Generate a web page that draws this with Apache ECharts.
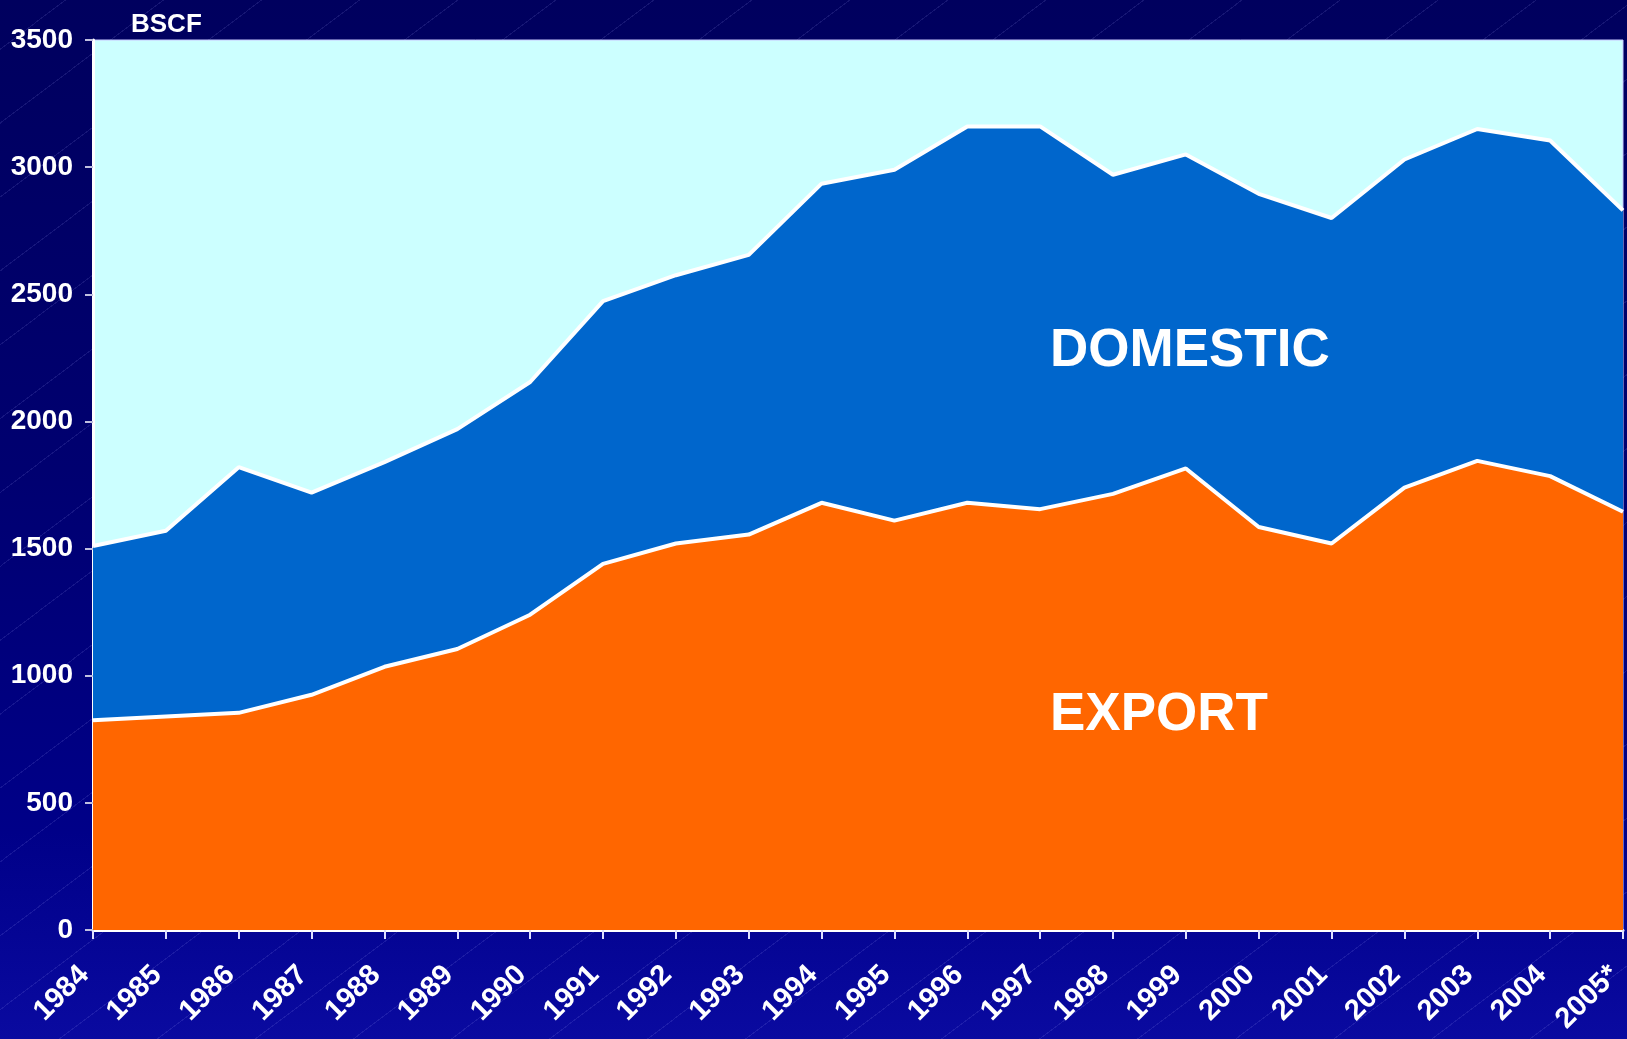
<!DOCTYPE html>
<html>
<head>
<meta charset="utf-8">
<script src="https://cdn.jsdelivr.net/npm/echarts@6/dist/echarts.min.js"></script>
<style>
  html, body { margin: 0; padding: 0; }
  body {
    width: 1627px; height: 1039px; overflow: hidden;
    background:
      repeating-linear-gradient(-37deg, transparent 0px, transparent 58px, rgba(170,170,255,0.13) 58px, rgba(170,170,255,0.13) 59px),
      linear-gradient(to bottom, #00005e 0%, #000070 45%, #000088 80%, #0a0aa0 100%);
  }
  #chart { width: 1627px; height: 1039px; }
</style>
</head>
<body>
<div id="chart"></div>
<script>
// 연도 (x축)
const years = ["1984", "1985", "1986", "1987", "1988", "1989", "1990", "1991", "1992", "1993", "1994",
  "1995", "1996", "1997", "1998", "1999", "2000", "2001", "2002", "2003", "2004", "2005*"];

// 수출량 (BSCF)
const exportValues = [825, 840, 854, 925, 1035, 1105, 1240, 1440, 1520, 1555, 1680,
  1610, 1680, 1655, 1715, 1815, 1585, 1520, 1740, 1845, 1785, 1645];

// 전체 생산량 (국내 + 수출)
const totalValues = [1510, 1570, 1820, 1720, 1840, 1970, 2155, 2473, 2575, 2655, 2935,
  2990, 3160, 3160, 2970, 3050, 2895, 2800, 3030, 3150, 3105, 2830];

// 국내 소비량 = 전체 - 수출
const domesticValues = totalValues.map((t, i) => t - exportValues[i]);

const yTicks = [0, 500, 1000, 1500, 2000, 2500, 3000, 3500];

const chart = echarts.init(document.getElementById("chart"));

const labelFont = { color: "#ffffff", fontFamily: "Liberation Sans", fontWeight: "bold", fontSize: 28 };

chart.setOption({
  animation: false,
  backgroundColor: "transparent",
  title: {
    text: "BSCF",
    left: 126,
    top: 7,
    textStyle: { ...labelFont, fontSize: 26 },
  },
  grid: {
    left: 93,
    top: 40,
    right: 4,
    bottom: 109,
    containLabel: false,
    outerBoundsMode: "none",
    show: true,
    backgroundColor: "#ccffff",
    borderColor: "#c8c8ff",
    borderWidth: 1,
  },
  xAxis: {
    type: "category",
    data: years,
    boundaryGap: false,
    axisLine: { lineStyle: { color: "#ffffff", width: 3 } },
    axisTick: { show: true, length: 9, lineStyle: { color: "#e0e0ff", width: 2 } },
    axisLabel: { ...labelFont, fontSize: 29, rotate: 45, margin: 32, padding: [0, 12, 0, 0], interval: 0 },
    splitLine: { show: false },
  },
  yAxis: {
    type: "value",
    min: yTicks[0],
    max: yTicks[yTicks.length - 1],
    interval: 500,
    axisLine: { show: true, lineStyle: { color: "#ffffff", width: 3 } },
    axisTick: { show: true, length: 8, lineStyle: { color: "#c0c0e0", width: 2 } },
    axisLabel: { ...labelFont, margin: 20, formatter: (v) => String(v) },
    splitLine: { show: false },
  },
  series: [
    {
      name: "EXPORT",
      type: "line",
      stack: "total",
      data: exportValues,
      symbol: "none",
      lineStyle: { color: "#ffffff", width: 4 },
      areaStyle: { color: "#ff6600", opacity: 1 },
      z: 3,
    },
    {
      name: "DOMESTIC",
      type: "line",
      stack: "total",
      data: domesticValues,
      symbol: "none",
      lineStyle: { color: "#ffffff", width: 4 },
      areaStyle: { color: "#0066cc", opacity: 1 },
      z: 2,
    },
  ],
});

// 시리즈 이름 라벨
chart.setOption({
  graphic: [
    {
      type: "text",
      x: 1050,
      y: 325,
      z: 100,
      style: { text: "DOMESTIC", fill: "#ffffff", fontSize: 53, fontWeight: "bold", fontFamily: "Liberation Sans" },
    },
    {
      type: "text",
      x: 1050,
      y: 689,
      z: 100,
      style: { text: "EXPORT", fill: "#ffffff", fontSize: 53, fontWeight: "bold", fontFamily: "Liberation Sans" },
    },
  ],
});
</script>
</body>
</html>
